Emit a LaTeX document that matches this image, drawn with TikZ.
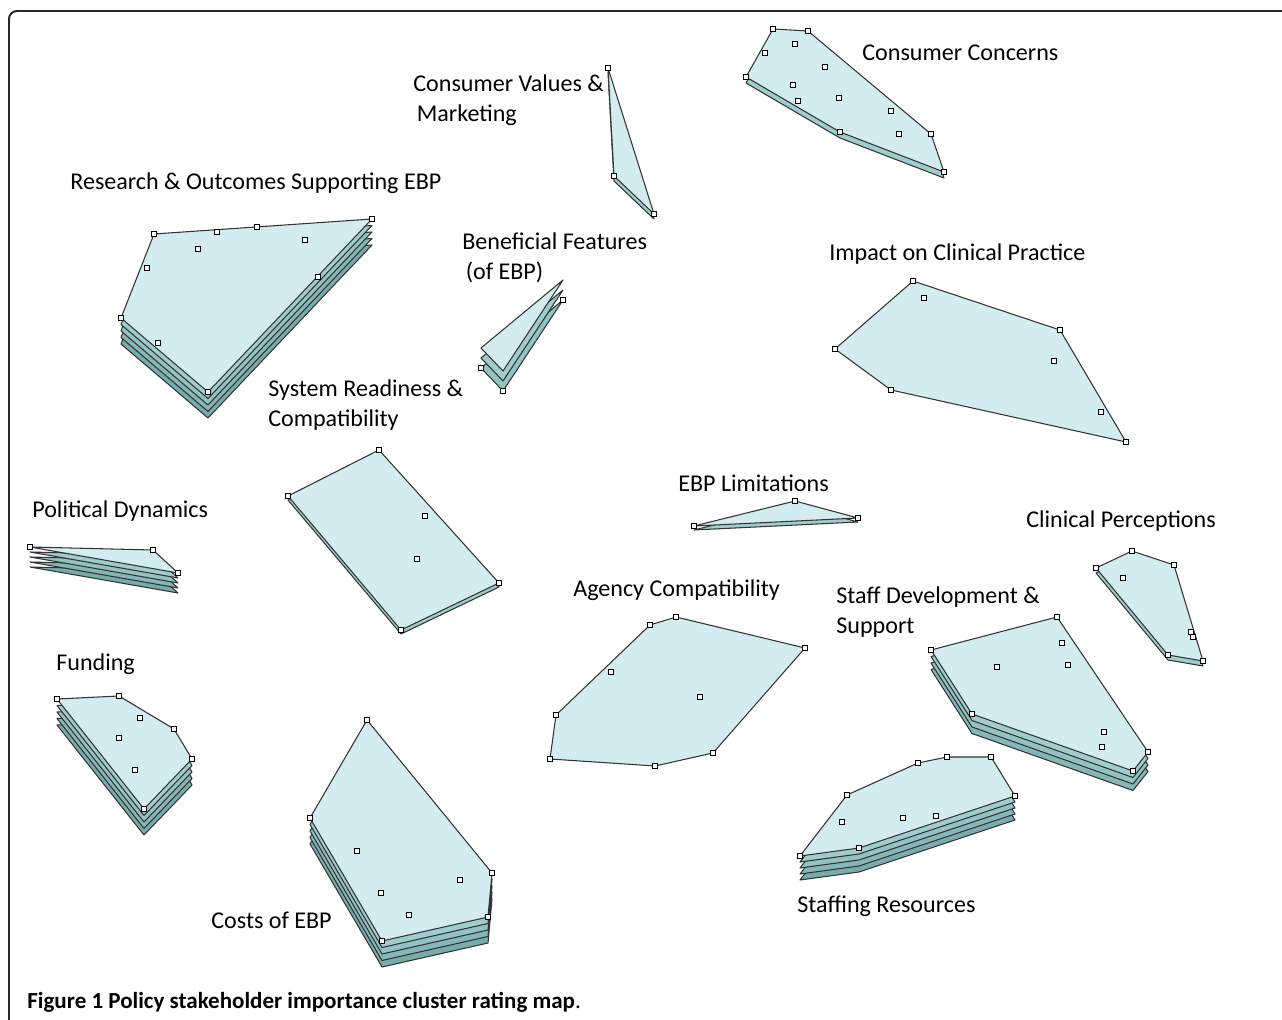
\documentclass[tikz,border=0pt]{standalone}
\usepackage{fontspec}
\setmainfont{Carlito}
\usepackage{tikz}
\definecolor{topc}{RGB}{211,236,240}
\definecolor{layA}{RGB}{172,216,216}
\definecolor{layB}{RGB}{120,172,172}
\tikzstyle{outerframe}=[line width=1.1pt,rounded corners=4.5pt,draw=black!85]
\tikzstyle{topface}=[fill=topc,draw=black!80,line width=0.6pt,line join=round]
\tikzstyle{lay}=[draw=black!80,line width=0.6pt,line join=round]
\tikzstyle{mk}=[fill=white,draw=black,line width=0.5pt]
\tikzstyle{lbl}=[anchor=west,inner sep=0pt,align=left,font=\fontsize{13.7}{17.2}\selectfont]
\tikzstyle{figcap}=[anchor=west,inner sep=0pt,font=\fontsize{13.1}{15}\selectfont]

% #1 layers under the top, #2 step (px), #3 top outline
\newcommand\clstack[3]{%
  \foreach \k in {#1,...,1}{%
    \pgfmathtruncatemacro\shd{100-25*\k}
    \filldraw[lay,fill=layA!\shd!layB,shift={(0,\k*#2)}] plot coordinates {#3} -- cycle;
  }
  \filldraw[topface] plot coordinates {#3} -- cycle;
}
\newcommand\clmarks[1]{%
  \foreach \x/\y in {#1}
    \filldraw[mk] (\x-2.7,\y-2.7) rectangle (\x+2.7,\y+2.7);
}

\begin{document}
\begin{tikzpicture}[x=0.02cm,y=-0.02cm]
\useasboundingbox (0,0) rectangle (1282,1020);
\clip (0,0) rectangle (1282,1020);
\draw[outerframe] (9,11) rectangle (1300,1040);

% Consumer Concerns
\clstack{1}{6}{(773,29) (808,31) (931,134) (944,172) (840,132) (746,77)}
\clmarks{773/29,808/31,765/53,795/44,825/67,746/77,793/85,839/98,798/101,891/111,899/134,931/134,944/172,840/132}
% Consumer Values & Marketing
\clstack{1}{5}{(608,68) (654,214) (614,176)}
\clmarks{608/68,654/214,614/176}
% Research & Outcomes
\clstack{4}{6.5}{(154,234) (372,219) (208,392) (121,318)}
\clmarks{154/234,217/232,257/227,372/219,305/240,198/249,147/268,318/277,121/318,158/343,208/392}
% Beneficial Features
\clstack{2}{10}{(481,348) (563,280) (503,371)}
\clmarks{481/368,563/300,503/391}
% Impact on Clinical Practice
\filldraw[topface] (913,281) -- (1060,330) -- (1126,442) -- (891,390) -- (835,349) -- cycle;
\clmarks{913/281,1060/330,1126/442,891/390,835/349,924/298,1054/361,1101/412}
% System Readiness
\clstack{1}{4}{(379,450) (499,583) (401,630) (288,496)}
\clmarks{379/450,499/583,401/630,288/496,425/516,417/559}
% Political Dynamics
\clstack{4}{5}{(30,547) (153,550) (178,573)}
\clmarks{30/547,153/550,178/573}
% EBP Limitations
\clstack{1}{4}{(694,526) (795,501) (858,518)}
\clmarks{694/526,795/501,858/518}
% Clinical Perceptions
\clstack{1}{5}{(1096,568) (1132,551) (1174,565) (1203,661) (1168,655)}
\clmarks{1096/568,1132/551,1174/565,1203/661,1168/655,1123/578,1191/632,1193/637}
% Funding
\clstack{4}{6.5}{(57,699) (119,696) (174,729) (192,759) (144,809)}
\clmarks{57/699,119/696,174/729,192/759,144/809,140/718,119/738,135/770}
% Agency Compatibility
\filldraw[topface] (650,625) -- (676,617) -- (805,648) -- (713,753) -- (655,766) -- (550,759) -- (556,715) -- cycle;
\clmarks{650/625,676/617,805/648,713/753,655/766,550/759,556/715,611/672,700/697}
% Staff Development
\clstack{3}{6.5}{(931,650) (1057,617) (1148,752) (1133,771) (972,714)}
\clmarks{931/650,1057/617,1148/752,1133/771,972/714,1062/643,1068/665,997/667,1104/732,1102/747}
% Staffing Resources
\clstack{4}{6}{(800,856) (847,795) (918,763) (947,757) (991,757) (1015,796) (859,848)}
\clmarks{800/856,847/795,918/763,947/757,991/757,1015/796,859/848,842/822,903/818,936/816}
% Costs of EBP
\clstack{4}{6.5}{(367,720) (492,873) (488,917) (382,941) (310,818)}
\clmarks{367/720,492/873,488/917,382/941,310/818,357/851,381/893,409/915,460/880}

% labels
\node[lbl] (cc) at (862,53) {Consumer Concerns};
\node[lbl] (cvm) at (413,100) {Consumer Values \&\\\hspace*{2pt}Marketing};
\node[lbl] (ro) at (70,183) {Research \& Outcomes Supporting EBP};
\node[lbl] (bf) at (462,258) {Beneficial Features\\\hspace*{2pt}(of EBP)};
\node[lbl] (icp) at (829,254) {Impact on Clinical Practice};
\node[lbl] (sr) at (268,405) {System Readiness \&\\Compatibility};
\node[lbl] (pd) at (32,511) {Political Dynamics};
\node[lbl] (el) at (678,483) {EBP Limitations};
\node[lbl] (cp) at (1026,521) {Clinical Perceptions};
\node[lbl] (ac) at (573,590) {Agency Compatibility};
\node[lbl] (sd) at (836,612) {Staff Development \&\\Support};
\node[lbl] (fu) at (56,664) {Funding};
\node[lbl] (sres) at (797,906) {Staffing Resources};
\node[lbl] (ce) at (211,920) {Costs of EBP};
\node[figcap] (fig) at (27,1002) {\textbf{Figure 1 Policy stakeholder importance cluster rating map}.};
\end{tikzpicture}
\end{document}
